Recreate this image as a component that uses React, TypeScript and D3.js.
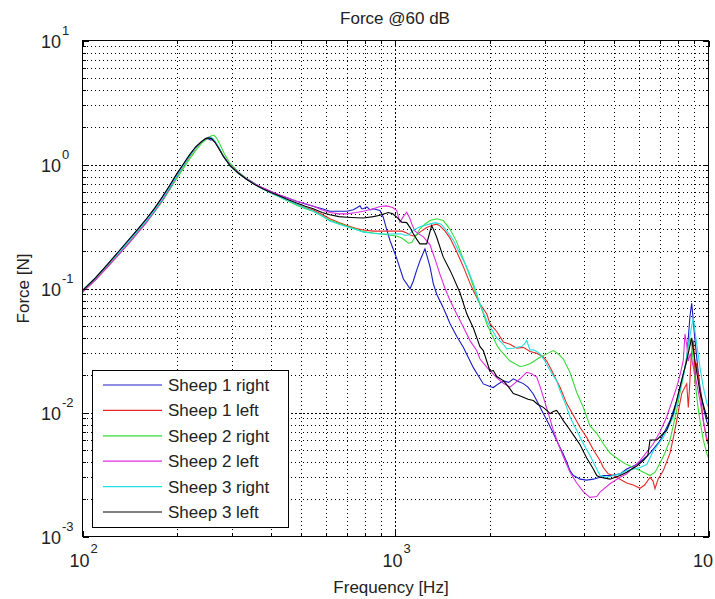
import React, { useEffect, useRef } from "react";
import * as d3 from "d3";

type Pt = [number, number];

// frequency [Hz], force [N]
const sheep1Right: Pt[] = [
  [100, 0.096], [110, 0.122], [120, 0.155], [130, 0.195], [140, 0.242], [150, 0.297], [160, 0.36],
  [170, 0.44], [180, 0.545], [190, 0.67], [200, 0.83], [210, 1.0], [220, 1.19], [230, 1.38],
  [240, 1.52], [246, 1.58], [250, 1.62], [254, 1.6], [257, 1.57], [261, 1.6], [265, 1.52],
  [272, 1.37], [282, 1.17], [296, 0.99], [315, 0.86], [334, 0.77], [355, 0.7], [378, 0.645],
  [400, 0.605], [428, 0.565], [455, 0.535], [483, 0.505], [515, 0.48], [546, 0.46], [583, 0.44],
  [617, 0.42], [660, 0.42], [699, 0.42], [733, 0.431], [755, 0.45], [770, 0.464], [780, 0.44],
  [789, 0.44], [810, 0.455], [830, 0.43], [849, 0.44], [892, 0.425], [914, 0.376], [937, 0.3],
  [960, 0.244], [1009, 0.175], [1059, 0.12], [1113, 0.0995], [1140, 0.115], [1168, 0.14],
  [1200, 0.17], [1242, 0.209], [1289, 0.15], [1320, 0.11], [1354, 0.09], [1421, 0.07],
  [1494, 0.052], [1570, 0.041], [1647, 0.0336], [1773, 0.023], [1908, 0.017], [2004, 0.0162],
  [2054, 0.0159], [2130, 0.017], [2211, 0.018], [2300, 0.0175], [2379, 0.0187], [2470, 0.0178],
  [2561, 0.0171], [2650, 0.016], [2756, 0.0141], [2850, 0.012], [2967, 0.0098], [3080, 0.0082],
  [3193, 0.0068], [3310, 0.0056], [3437, 0.0046], [3524, 0.004], [3610, 0.0034], [3700, 0.0031],
  [3793, 0.003], [3887, 0.0029], [4080, 0.00285], [4286, 0.0029], [4502, 0.003], [4612, 0.0031],
  [4900, 0.0031], [5216, 0.0032], [5480, 0.0035], [5897, 0.0038], [6190, 0.0042], [6503, 0.0047],
  [6998, 0.0059], [7534, 0.0086], [7914, 0.0124], [8108, 0.016], [8308, 0.0205], [8519, 0.026],
  [8620, 0.04], [8728, 0.06], [8837, 0.076], [8942, 0.055], [9055, 0.038], [9257, 0.022],
  [9393, 0.016], [9625, 0.011], [9868, 0.0085], [10000, 0.0078],
];

const sheep1Left: Pt[] = [
  [100, 0.094], [110, 0.118], [120, 0.15], [130, 0.188], [140, 0.232], [150, 0.286], [160, 0.345],
  [170, 0.425], [180, 0.52], [190, 0.645], [200, 0.8], [210, 0.97], [220, 1.16], [230, 1.36],
  [240, 1.53], [248, 1.63], [254, 1.66], [260, 1.62], [266, 1.5], [272, 1.37], [282, 1.16],
  [296, 0.98], [315, 0.85], [334, 0.76], [355, 0.69], [378, 0.635], [400, 0.595], [428, 0.55],
  [455, 0.51], [483, 0.475], [515, 0.45], [546, 0.43], [583, 0.395], [617, 0.365], [660, 0.34],
  [699, 0.322], [750, 0.305], [789, 0.296], [850, 0.29], [892, 0.29], [950, 0.29], [1009, 0.29],
  [1050, 0.29], [1086, 0.28], [1113, 0.27], [1140, 0.265], [1168, 0.27], [1197, 0.285],
  [1258, 0.31], [1320, 0.325], [1354, 0.33], [1387, 0.32], [1440, 0.29], [1494, 0.255],
  [1566, 0.2], [1647, 0.15], [1730, 0.11], [1773, 0.096], [1862, 0.075], [1956, 0.0625],
  [2004, 0.052], [2106, 0.045], [2211, 0.037], [2322, 0.0355], [2439, 0.033], [2561, 0.0335],
  [2690, 0.031], [2826, 0.03], [2967, 0.028], [3042, 0.026], [3150, 0.022], [3273, 0.018],
  [3354, 0.016], [3524, 0.0118], [3700, 0.0095], [3887, 0.0076], [4082, 0.0063], [4286, 0.005],
  [4502, 0.0041], [4612, 0.0036], [4780, 0.0032], [4964, 0.0031], [5216, 0.0029], [5480, 0.0027],
  [5750, 0.0026], [6042, 0.00245], [6250, 0.0026], [6503, 0.003], [6650, 0.0028], [6747, 0.00243],
  [6900, 0.0029], [7171, 0.0034], [7353, 0.004], [7534, 0.0047], [7718, 0.0062], [7914, 0.0086],
  [8108, 0.012], [8211, 0.0142], [8400, 0.016], [8519, 0.017], [8620, 0.011], [8700, 0.016],
  [8800, 0.028], [8942, 0.038], [9000, 0.03], [9055, 0.017], [9150, 0.025], [9257, 0.021],
  [9393, 0.015], [9625, 0.0086], [9868, 0.006], [10000, 0.0055],
];

const sheep2Right: Pt[] = [
  [100, 0.094], [110, 0.118], [120, 0.149], [130, 0.186], [140, 0.229], [150, 0.282], [160, 0.34],
  [170, 0.415], [180, 0.505], [190, 0.625], [200, 0.77], [210, 0.93], [220, 1.11], [230, 1.3],
  [240, 1.48], [250, 1.62], [257, 1.7], [263, 1.72], [268, 1.64], [275, 1.45], [284, 1.22],
  [296, 1.02], [315, 0.87], [334, 0.775], [355, 0.7], [378, 0.635], [400, 0.59], [428, 0.545],
  [455, 0.505], [483, 0.47], [515, 0.44], [546, 0.42], [583, 0.385], [617, 0.355], [660, 0.335],
  [699, 0.318], [750, 0.3], [789, 0.288], [850, 0.28], [892, 0.276], [950, 0.27], [1009, 0.265],
  [1047, 0.255], [1073, 0.244], [1100, 0.232], [1127, 0.235], [1154, 0.259], [1197, 0.303],
  [1240, 0.33], [1289, 0.353], [1354, 0.365], [1421, 0.353], [1494, 0.3], [1566, 0.24],
  [1650, 0.17], [1730, 0.125], [1817, 0.087], [1908, 0.063], [1956, 0.052], [2106, 0.035],
  [2157, 0.032], [2322, 0.026], [2499, 0.0235], [2561, 0.0237], [2690, 0.0247], [2895, 0.0279],
  [3042, 0.0297], [3193, 0.0316], [3300, 0.03], [3437, 0.027], [3610, 0.021], [3793, 0.0145],
  [3981, 0.011], [4182, 0.0078], [4395, 0.0068], [4612, 0.0056], [4845, 0.0047], [5216, 0.0041],
  [5480, 0.0038], [6042, 0.0034], [6503, 0.0031], [6750, 0.0033], [6998, 0.0039], [7250, 0.0047],
  [7534, 0.006], [7914, 0.0104], [8108, 0.0145], [8308, 0.0193], [8519, 0.028], [8728, 0.04],
  [8837, 0.035], [9055, 0.018], [9257, 0.011], [9393, 0.0086], [9625, 0.006], [9868, 0.0047],
  [10000, 0.0043],
];

const sheep2Left: Pt[] = [
  [100, 0.093], [110, 0.117], [120, 0.148], [130, 0.185], [140, 0.228], [150, 0.28], [160, 0.34],
  [170, 0.42], [180, 0.515], [190, 0.64], [200, 0.8], [210, 0.98], [220, 1.17], [230, 1.37],
  [240, 1.53], [247, 1.61], [253, 1.64], [259, 1.61], [265, 1.51], [272, 1.36], [282, 1.17],
  [296, 0.99], [315, 0.86], [334, 0.77], [355, 0.7], [378, 0.645], [400, 0.605], [428, 0.565],
  [455, 0.535], [483, 0.505], [515, 0.485], [546, 0.46], [583, 0.43], [617, 0.41], [660, 0.4],
  [699, 0.4], [750, 0.41], [789, 0.42], [850, 0.44], [892, 0.458], [937, 0.464], [980, 0.45],
  [1009, 0.425], [1033, 0.343], [1059, 0.38], [1086, 0.412], [1110, 0.37], [1127, 0.332],
  [1154, 0.29], [1230, 0.26], [1289, 0.225], [1340, 0.17], [1387, 0.13], [1440, 0.1],
  [1494, 0.08], [1570, 0.062], [1647, 0.049], [1730, 0.038], [1817, 0.0316], [1862, 0.027],
  [1956, 0.0232], [2106, 0.019], [2211, 0.0172], [2322, 0.016], [2420, 0.0175], [2499, 0.0187],
  [2626, 0.0211], [2720, 0.0205], [2826, 0.0193], [2900, 0.016], [2967, 0.0133], [3080, 0.0098],
  [3193, 0.0072], [3310, 0.0056], [3437, 0.0044], [3610, 0.0033], [3793, 0.0027], [3981, 0.0023],
  [4182, 0.00207], [4395, 0.0021], [4502, 0.00228], [4845, 0.00266], [5216, 0.003], [5480, 0.0032],
  [6042, 0.0041], [6662, 0.0056], [7000, 0.007], [7353, 0.0092], [7914, 0.016], [8108, 0.02],
  [8308, 0.0263], [8412, 0.043], [8520, 0.035], [8620, 0.026], [8750, 0.03], [9055, 0.02],
  [9393, 0.0125], [9625, 0.0085], [9868, 0.0063], [10000, 0.0058],
];

const sheep3Right: Pt[] = [
  [100, 0.097], [110, 0.122], [120, 0.154], [130, 0.192], [140, 0.238], [150, 0.292], [160, 0.352],
  [170, 0.43], [180, 0.53], [190, 0.655], [200, 0.81], [210, 0.98], [220, 1.17], [230, 1.37],
  [240, 1.53], [248, 1.62], [255, 1.66], [261, 1.62], [267, 1.5], [274, 1.34], [283, 1.15],
  [296, 0.97], [315, 0.845], [334, 0.76], [355, 0.69], [378, 0.63], [400, 0.588], [428, 0.545],
  [455, 0.51], [483, 0.475], [515, 0.445], [546, 0.42], [583, 0.385], [617, 0.35], [660, 0.33],
  [699, 0.315], [750, 0.298], [789, 0.285], [850, 0.279], [892, 0.276], [960, 0.275], [1009, 0.276],
  [1047, 0.275], [1073, 0.268], [1100, 0.27], [1140, 0.295], [1197, 0.315], [1289, 0.332],
  [1340, 0.34], [1400, 0.33], [1460, 0.29], [1530, 0.245], [1608, 0.19], [1689, 0.149],
  [1773, 0.11], [1862, 0.075], [1956, 0.055], [2106, 0.04], [2211, 0.0355], [2267, 0.0326],
  [2379, 0.033], [2439, 0.0336], [2530, 0.034], [2590, 0.036], [2626, 0.038], [2690, 0.032],
  [2756, 0.032], [2826, 0.031], [2895, 0.0297], [3000, 0.026], [3117, 0.0218], [3273, 0.018],
  [3354, 0.015], [3524, 0.011], [3610, 0.0092], [3793, 0.0072], [3887, 0.0063], [4082, 0.005],
  [4182, 0.0045], [4395, 0.0035], [4502, 0.0031], [4720, 0.003], [4964, 0.0031], [5216, 0.0032],
  [5480, 0.0034], [6042, 0.0036], [6347, 0.0038], [6662, 0.0049], [7171, 0.0063], [7718, 0.0092],
  [8108, 0.015], [8412, 0.023], [8620, 0.035], [8837, 0.05], [8942, 0.058], [9055, 0.045],
  [9257, 0.03], [9393, 0.023], [9625, 0.016], [9868, 0.012], [10000, 0.011],
];

const sheep3Left: Pt[] = [
  [100, 0.096], [110, 0.122], [120, 0.156], [130, 0.197], [140, 0.245], [150, 0.3], [160, 0.365],
  [170, 0.445], [180, 0.55], [190, 0.68], [200, 0.84], [210, 1.01], [220, 1.2], [230, 1.39],
  [240, 1.53], [247, 1.61], [252, 1.64], [258, 1.62], [265, 1.51], [272, 1.36], [282, 1.16],
  [296, 0.98], [315, 0.85], [334, 0.76], [355, 0.69], [378, 0.635], [400, 0.595], [428, 0.555],
  [455, 0.52], [483, 0.49], [515, 0.46], [546, 0.44], [583, 0.41], [617, 0.393], [660, 0.38],
  [699, 0.376], [750, 0.372], [789, 0.37], [850, 0.38], [892, 0.39], [948, 0.41], [980, 0.4],
  [1009, 0.376], [1047, 0.343], [1086, 0.34], [1113, 0.31], [1140, 0.276], [1168, 0.25],
  [1197, 0.229], [1258, 0.229], [1280, 0.27], [1305, 0.322], [1330, 0.29], [1354, 0.259],
  [1421, 0.179], [1494, 0.14], [1530, 0.123], [1608, 0.092], [1689, 0.0625], [1773, 0.048],
  [1862, 0.034], [1908, 0.0316], [1956, 0.026], [2004, 0.0215], [2054, 0.0218], [2106, 0.0195],
  [2211, 0.0181], [2300, 0.016], [2379, 0.0142], [2470, 0.0138], [2561, 0.0133], [2650, 0.0128],
  [2756, 0.0125], [2850, 0.0116], [2967, 0.011], [3042, 0.0104], [3117, 0.0098], [3193, 0.0102],
  [3273, 0.0104], [3354, 0.0095], [3437, 0.0086], [3560, 0.0076], [3700, 0.0066], [3887, 0.0055],
  [4082, 0.0043], [4286, 0.0035], [4395, 0.0031], [4502, 0.003], [4845, 0.0029], [5216, 0.0031],
  [5480, 0.0033], [5897, 0.0037], [6190, 0.0041], [6400, 0.0045], [6503, 0.006], [6832, 0.006],
  [7353, 0.0072], [7718, 0.0098], [8108, 0.016], [8519, 0.0263], [8837, 0.04], [9055, 0.026],
  [9393, 0.0145], [9868, 0.0092], [10000, 0.0088],
];

const seriesNames = ["Sheep 1 right", "Sheep 1 left", "Sheep 2 right", "Sheep 2 left", "Sheep 3 right", "Sheep 3 left"];
const seriesColors = ["#1c1cc4", "#e62828", "#36dc36", "#dc2edc", "#22dede", "#000000"];
const seriesData = [sheep1Right, sheep1Left, sheep2Right, sheep2Left, sheep3Right, sheep3Left];

const xDecades = [100, 1000, 10000];
const yDecades = [0.001, 0.01, 0.1, 1, 10];

const W = 715;
const H = 599;
const FONT = "'Liberation Sans', Arial, Helvetica, sans-serif";

const App: React.FC = () => {
  const ref = useRef<SVGSVGElement | null>(null);

  useEffect(() => {
    if (!ref.current) return;
    const svg = d3.select(ref.current);
    svg.selectAll("*").remove();

    const x = d3.scaleLog().domain([100, 10000]).range([82.5, 708.5]);
    const y = d3.scaleLog().domain([0.001, 10]).range([536.5, 40.5]);
    const [x0, x1] = x.range();
    const [y1, y0] = y.range();

    svg.append("rect").attr("width", W).attr("height", H).attr("fill", "#fff");

    // grid: minor + major, dotted like the original
    const grid = svg.append("g").attr("shape-rendering", "crispEdges");
    const xMinor: number[] = [];
    [100, 1000].forEach((d) => d3.range(2, 10).forEach((k) => xMinor.push(k * d)));
    const yMinor: number[] = [];
    [0.001, 0.01, 0.1, 1].forEach((d) => d3.range(2, 10).forEach((k) => yMinor.push(k * d)));

    xMinor.forEach((v) => {
      const px = Math.round(x(v)) + 0.5;
      grid.append("line").attr("x1", px).attr("x2", px).attr("y1", y0).attr("y2", y1)
        .attr("stroke", "#000").attr("stroke-dasharray", "1,3");
    });
    yMinor.forEach((v) => {
      const py = Math.round(y(v)) + 0.5;
      grid.append("line").attr("x1", x0).attr("x2", x1).attr("y1", py).attr("y2", py)
        .attr("stroke", "#000").attr("stroke-dasharray", "1,3");
    });
    xDecades.slice(1, -1).forEach((v) => {
      const px = Math.round(x(v)) + 0.5;
      grid.append("line").attr("x1", px).attr("x2", px).attr("y1", y0).attr("y2", y1)
        .attr("stroke", "#000").attr("stroke-dasharray", "2,2");
    });
    yDecades.slice(1, -1).forEach((v) => {
      const py = Math.round(y(v)) + 0.5;
      grid.append("line").attr("x1", x0).attr("x2", x1).attr("y1", py).attr("y2", py)
        .attr("stroke", "#000").attr("stroke-dasharray", "2,2");
    });

    // curves
    svg.append("clipPath").attr("id", "plotClip").append("rect")
      .attr("x", x0).attr("y", y0).attr("width", x1 - x0).attr("height", y1 - y0);
    const line = d3.line<Pt>().x((d) => x(d[0])).y((d) => y(d[1]));
    const curves = svg.append("g").attr("clip-path", "url(#plotClip)");
    seriesData.forEach((data, i) => {
      curves.append("path").datum(data).attr("d", line).attr("fill", "none")
        .attr("stroke", seriesColors[i]).attr("stroke-width", 1.1);
    });

    // ticks, inward on all four sides
    const ticks = svg.append("g").attr("stroke", "#000").attr("shape-rendering", "crispEdges");
    const xTickVals = [...xDecades.map((v) => ({ v, len: 6 })), ...xMinor.map((v) => ({ v, len: 3 }))];
    xTickVals.forEach(({ v, len }) => {
      const px = Math.round(x(v)) + 0.5;
      ticks.append("line").attr("x1", px).attr("x2", px).attr("y1", y1).attr("y2", y1 - len);
      ticks.append("line").attr("x1", px).attr("x2", px).attr("y1", y0).attr("y2", y0 + len);
    });
    const yTickVals = [...yDecades.map((v) => ({ v, len: 6 })), ...yMinor.map((v) => ({ v, len: 3 }))];
    yTickVals.forEach(({ v, len }) => {
      const py = Math.round(y(v)) + 0.5;
      ticks.append("line").attr("x1", x0).attr("x2", x0 + len).attr("y1", py).attr("y2", py);
      ticks.append("line").attr("x1", x1).attr("x2", x1 - len).attr("y1", py).attr("y2", py);
    });

    // box
    svg.append("rect").attr("x", x0).attr("y", y0).attr("width", x1 - x0).attr("height", y1 - y0)
      .attr("fill", "none").attr("stroke", "#000").attr("shape-rendering", "crispEdges");

    const txt = svg.append("g").attr("font-family", FONT).attr("fill", "#222");

    // y tick labels
    yDecades.forEach((v) => {
      const py = y(v);
      const e = Math.round(Math.log10(v));
      txt.append("text").attr("x", 61).attr("y", py + 7).attr("text-anchor", "end")
        .attr("font-size", 18).text("10");
      txt.append("text").attr("x", 62).attr("y", py - 6).attr("font-size", 13)
        .text(e < 0 ? `-${-e}` : `${e}`);
    });

    // x tick labels (the last one runs off the right edge, as in the original figure)
    xDecades.forEach((v) => {
      const px = x(v);
      const e = Math.round(Math.log10(v));
      const end = Math.min(px + 7, W - 2);
      txt.append("text").attr("x", end).attr("y", 567).attr("text-anchor", "end")
        .attr("font-size", 18).text("10");
      if (end + 9 < W) {
        txt.append("text").attr("x", end + 1).attr("y", 553).attr("font-size", 13).text(`${e}`);
      }
    });

    txt.append("text").attr("x", 395).attr("y", 24).attr("text-anchor", "middle")
      .attr("font-size", 17).text("Force @60 dB");
    txt.append("text").attr("x", 391).attr("y", 593).attr("text-anchor", "middle")
      .attr("font-size", 17).text("Frequency [Hz]");
    txt.append("text").attr("transform", `translate(29,${(y0 + y1) / 2}) rotate(-90)`)
      .attr("text-anchor", "middle").attr("font-size", 17).text("Force [N]");

    // legend
    const lg = svg.append("g");
    lg.append("rect").attr("x", 92.5).attr("y", 370.5).attr("width", 196).attr("height", 157)
      .attr("fill", "#fff").attr("stroke", "#000").attr("shape-rendering", "crispEdges");
    seriesNames.forEach((name, i) => {
      const cy = 385 + i * 25.4;
      lg.append("line").attr("x1", 103).attr("x2", 162).attr("y1", cy).attr("y2", cy)
        .attr("stroke", seriesColors[i]).attr("stroke-width", 1.2);
      lg.append("text").attr("x", 168).attr("y", cy + 6).attr("font-family", FONT)
        .attr("font-size", 17).attr("fill", "#222").text(name);
    });
  }, []);

  return (
    <svg
      ref={ref}
      width={W}
      height={H}
      style={{ position: "absolute", left: 0, top: 0, display: "block" }}
    />
  );
};

export default App;
